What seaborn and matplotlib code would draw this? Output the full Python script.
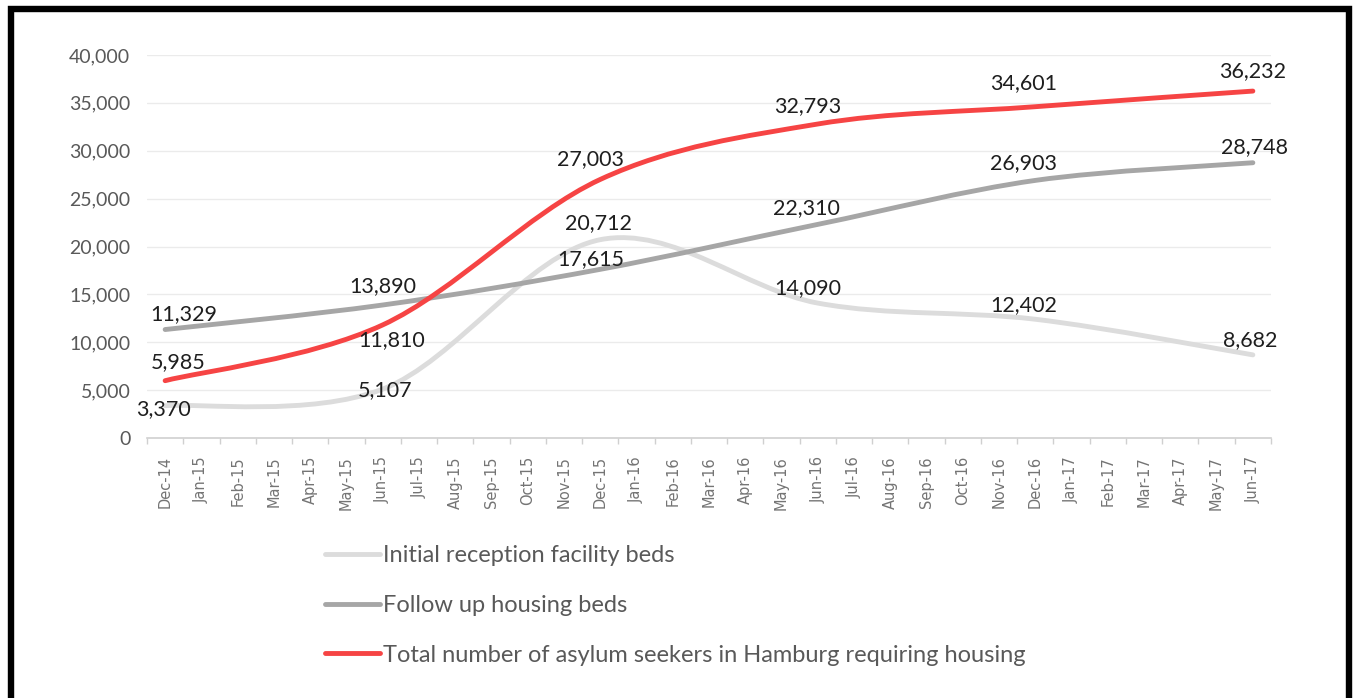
import numpy as np
import pandas as pd
import matplotlib.pyplot as plt
from matplotlib.path import Path
from matplotlib.patches import PathPatch
from matplotlib.lines import Line2D
import seaborn as sns

# monthly category axis, values are reported every six months
months = ['Dec-14', 'Jan-15', 'Feb-15', 'Mar-15', 'Apr-15', 'May-15', 'Jun-15',
          'Jul-15', 'Aug-15', 'Sep-15', 'Oct-15', 'Nov-15', 'Dec-15', 'Jan-16',
          'Feb-16', 'Mar-16', 'Apr-16', 'May-16', 'Jun-16', 'Jul-16', 'Aug-16',
          'Sep-16', 'Oct-16', 'Nov-16', 'Dec-16', 'Jan-17', 'Feb-17', 'Mar-17',
          'Apr-17', 'May-17', 'Jun-17']
report_months = ['Dec-14', 'Jun-15', 'Dec-15', 'Jun-16', 'Dec-16', 'Jun-17']

initial_beds = [3370, 5107, 20712, 14090, 12402, 8682]
followup_beds = [11329, 13890, 17615, 22310, 26903, 28748]
total_seekers = [5985, 11810, 27003, 32793, 34601, 36232]

series_names = ['Initial reception facility beds',
                'Follow up housing beds',
                'Total number of asylum seekers in Hamburg requiring housing']

df = pd.DataFrame({'month': report_months,
                   series_names[0]: initial_beds,
                   series_names[1]: followup_beds,
                   series_names[2]: total_seekers})
df['pos'] = [months.index(m) for m in df['month']]

sns.set_theme(style='white')
plt.rcParams['font.family'] = ['Lato', 'DejaVu Sans']

W, H = 1353, 698
fig = plt.figure(figsize=(W / 100, H / 100), dpi=100)
ax = fig.add_axes([147 / W, 1 - 438 / H, (1271 - 147) / W, (438 - 55) / H])

colors = ['#dcdcdc', '#a6a6a6', '#f64444']


def smooth_path(xs, ys):
    """excel style smoothed line as bezier segments"""
    pts = np.column_stack([xs, ys]).astype(float)
    ext = np.vstack([pts[0], pts, pts[-1]])
    verts = [pts[0]]
    codes = [Path.MOVETO]
    for i in range(len(pts) - 1):
        p0, p1, p2, p3 = ext[i], ext[i + 1], ext[i + 2], ext[i + 3]
        verts += [p1 + (p2 - p0) / 6, p2 - (p3 - p1) / 6, p2]
        codes += [Path.CURVE4] * 3
    return Path(verts, codes)


for name, col in zip(series_names, colors):
    patch = PathPatch(smooth_path(df['pos'], df[name]), facecolor='none',
                      edgecolor=col, lw=3.5, capstyle='round', zorder=3)
    ax.add_patch(patch)

# data label offsets in pixels (dx, dy)
offsets = {
    series_names[0]: [(-2, -3), (2, -1), (-2, 17), (-10, 15), (-12, 14), (-3, 15)],
    series_names[1]: [(19, 15), (0, 19), (-9, 10), (-11, 16), (-12, 17), (2, 16)],
    series_names[2]: [(13, 19), (9, -15), (-10, 20), (-10, 18), (-12, 24), (0, 20)],
}
for name in series_names:
    for (x, y), (dx, dy) in zip(zip(df['pos'], df[name]), offsets[name]):
        ax.annotate(f'{y:,}', (x, y), xytext=(dx, dy), textcoords='offset pixels',
                    ha='center', va='center', fontsize=15.5, color='#1e1e1e',
                    zorder=4)

ax.set_xlim(-0.5, len(months) - 0.5)
ax.set_ylim(0, 40000)
ax.set_yticks(range(0, 40001, 5000))
ax.set_yticklabels([f'{v:,}' for v in range(0, 40001, 5000)])
ax.set_xticks(range(len(months)))
ax.set_xticklabels(months, rotation=90, fontsize=10.5, color='#747474',
                   family='DejaVu Sans')
ax.set_xticks(np.arange(-0.5, len(months), 1), minor=True)
ax.tick_params(axis='x', which='major', length=0, pad=13)
ax.tick_params(axis='x', which='minor', length=4, width=1, color='#d0d0d0',
               bottom=True)
ax.tick_params(axis='y', length=0, pad=12, labelsize=14, labelcolor='#595959')
ax.grid(axis='y', color='#ebebeb', lw=1)
ax.set_axisbelow(True)
sns.despine(ax=ax, left=True)
ax.spines['bottom'].set_color('#d0d0d0')
ax.spines['bottom'].set_linewidth(1.2)
ax.set_xlabel('')
ax.set_ylabel('')

handles = [Line2D([], [], color=c, lw=3.5) for c in colors]
fig.legend(handles, series_names, loc='upper left',
           bbox_to_anchor=(325 / W, 1 - 545 / H), frameon=False,
           fontsize=17, labelcolor='#595959', handlelength=2.35,
           handletextpad=0.12, labelspacing=1.22, borderpad=0,
           borderaxespad=0)

# black frame around the figure (open at the bottom)
fig.add_artist(Line2D([10.5 / W, 10.5 / W, 1348.5 / W, 1348.5 / W],
                      [0, 1 - 9 / H, 1 - 9 / H, 0], transform=fig.transFigure,
                      color='black', lw=4.6, solid_joinstyle='miter'))

fig.savefig('out.png', dpi=100, facecolor='white')
